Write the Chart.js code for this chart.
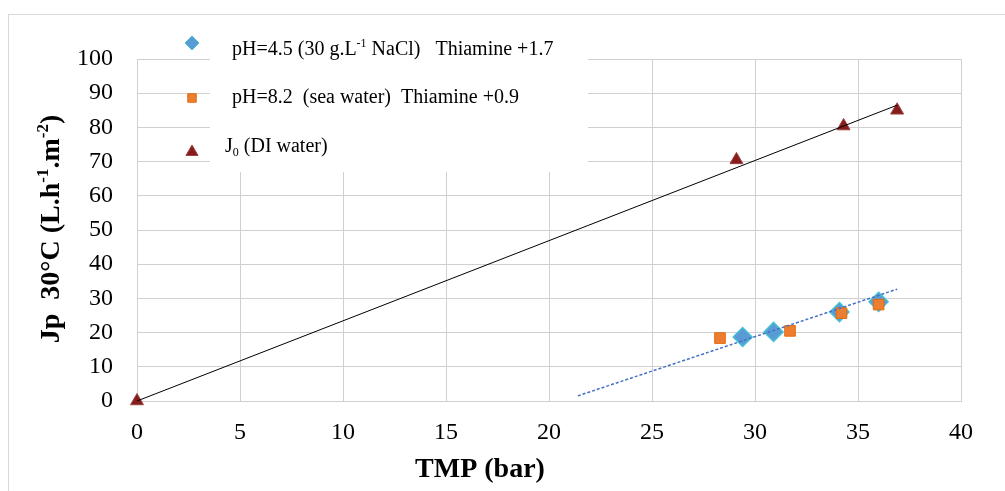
<!DOCTYPE html>
<html>
<head>
<meta charset="utf-8">
<script src="https://cdn.jsdelivr.net/npm/chart.js@4.4.0/dist/chart.umd.min.js"></script>
<style>
html, body { margin: 0; padding: 0; background: #fff; }
#wrap { position: relative; width: 1005px; height: 491px; overflow: hidden; }
#frame { position: absolute; left: 8px; top: 14px; width: 1010px; height: 500px; border: 1px solid #d9d9d9; }
canvas { position: absolute; left: 0; top: 0; }
</style>
</head>
<body>
<div id="wrap">
  <div id="frame"></div>
  <canvas id="chart1" width="1005" height="491"></canvas>
</div>
<script>
// TMP (bar) and permeate flux values
var tmpPh45 = [29.4, 30.9, 34.1, 36.0];
var jpPh45  = [18.7, 20.2, 26.0, 29.0];

var tmpPh82 = [28.3, 31.7, 34.2, 36.0];
var jpPh82  = [18.4, 20.5, 25.7, 28.2];

var tmpJ0 = [0, 29.1, 34.3, 36.9];
var jpJ0  = [0, 70.5, 80.4, 85.0];

// linear trend lines (end points)
var trendJ0X = [0, 36.9];
var trendJ0Y = [0, 86.5];
var trendSaltX = [21.4, 36.9];
var trendSaltY = [1.5, 32.7];

var labels = [
    'pH=4.5 (30 g.L^{-1} NaCl)   Thiamine +1.7',
    'pH=8.2  (sea water)  Thiamine +0.9',
    'J_{0} (DI water)'
];
var xTitle = 'TMP (bar)';
var yTitle = 'Jp  30°C (L.h^{-1}.m^{-2})';

var SERIF = '"Liberation Serif", "Times New Roman", serif';
var GRID = '#d0d0d0';

function toPoints(xs, ys) {
    return xs.map(function (x, i) { return { x: x, y: ys[i] }; });
}

// split text with ^{..} superscripts and _{..} subscripts
function richParts(str) {
    var parts = [], re = /([\^_])\{([^}]*)\}/g, last = 0, m;
    while ((m = re.exec(str))) {
        if (m.index > last) parts.push({ t: str.slice(last, m.index), k: '' });
        parts.push({ t: m[2], k: m[1] });
        last = re.lastIndex;
    }
    if (last < str.length) parts.push({ t: str.slice(last), k: '' });
    return parts;
}

function drawRich(ctx, str, x, y, size, weight, align) {
    var parts = richParts(str);
    var total = 0;
    parts.forEach(function (p) {
        p.font = weight + ' ' + (p.k ? Math.round(size * 0.62) : size) + 'px ' + SERIF;
        ctx.font = p.font;
        p.w = ctx.measureText(p.t).width;
        total += p.w;
    });
    var cx = align === 'center' ? x - total / 2 : x;
    ctx.textAlign = 'left';
    ctx.textBaseline = 'alphabetic';
    parts.forEach(function (p) {
        var dy = p.k === '^' ? -size * 0.38 : (p.k === '_' ? size * 0.22 : 0);
        ctx.font = p.font;
        ctx.fillText(p.t, cx, y + dy);
        cx += p.w;
    });
}

// Excel-like legend sitting over the top-left of the plot
var legendBox = {
    id: 'legendBox',
    afterDraw: function (chart) {
        var ctx = chart.ctx;
        var markerY = [43, 98, 152];
        var textX = [232, 232, 225];
        var textY = [55, 103, 152];
        var sizes = [7, 6, 7];
        ctx.save();
        ctx.fillStyle = '#fff';
        ctx.fillRect(210, 20, 378, 152);
        var n = 0;
        chart.data.datasets.forEach(function (ds) {
            if (ds.trend) return;
            var style = {
                pointStyle: ds.pointStyle, radius: sizes[n], rotation: 0,
                borderWidth: 1
            };
            ctx.fillStyle = ds.backgroundColor;
            ctx.strokeStyle = ds.borderColor;
            ctx.lineWidth = 1;
            Chart.helpers.drawPoint(ctx, style, 192, markerY[n]);
            ctx.fillStyle = '#000';
            drawRich(ctx, ds.label, textX[n], textY[n], 20, 'normal', 'left');
            n++;
        });
        ctx.restore();
    }
};

var axisTitles = {
    id: 'axisTitles',
    afterDraw: function (chart) {
        var ctx = chart.ctx;
        ctx.save();
        ctx.fillStyle = '#000';
        drawRich(ctx, xTitle, 480, 477, 28, 'bold', 'center');
        ctx.translate(59, 229);
        ctx.rotate(-Math.PI / 2);
        drawRich(ctx, yTitle, 0, 0, 28, 'bold', 'center');
        ctx.restore();
    }
};

var ctx = document.getElementById('chart1').getContext('2d');
var chart = new Chart(ctx, {
    type: 'scatter',
    data: {
        datasets: [{
            label: labels[0],
            data: toPoints(tmpPh45, jpPh45),
            pointStyle: 'rectRot',
            pointRadius: 9.5,
            backgroundColor: '#5B9BD5',
            borderColor: '#45C1D6',
            borderWidth: 1.5,
            order: 2
        }, {
            label: labels[1],
            data: toPoints(tmpPh82, jpPh82),
            pointStyle: 'rect',
            pointRadius: 7.5,
            backgroundColor: '#ED7D31',
            borderColor: '#E46C0A',
            borderWidth: 1,
            order: 1
        }, {
            label: labels[2],
            data: toPoints(tmpJ0, jpJ0),
            pointStyle: 'triangle',
            pointRadius: 7.5,
            backgroundColor: '#861C1C',
            borderColor: '#9A4444',
            borderWidth: 1,
            clip: 12,
            order: 2
        }, {
            trend: true,
            data: toPoints(trendJ0X, trendJ0Y),
            showLine: true,
            pointRadius: 0,
            borderColor: '#000',
            borderWidth: 1,
            order: 0
        }, {
            trend: true,
            data: toPoints(trendSaltX, trendSaltY),
            showLine: true,
            pointRadius: 0,
            borderColor: '#4472C4',
            borderWidth: 1.5,
            borderDash: [3, 2],
            order: 0
        }]
    },
    options: {
        responsive: false,
        animation: false,
        devicePixelRatio: 1,
        events: [],
        layout: { padding: { top: 59, right: 44, bottom: 0, left: 0 } },
        plugins: {
            legend: { display: false },
            tooltip: { enabled: false }
        },
        scales: {
            x: {
                type: 'linear',
                min: 0, max: 40,
                ticks: { stepSize: 5, color: '#000', padding: 17, font: { family: SERIF, size: 24 } },
                grid: { color: GRID, drawTicks: false },
                border: { color: GRID },
                afterFit: function (s) { s.height = 90; }
            },
            y: {
                min: 0, max: 100,
                ticks: { stepSize: 10, color: '#000', padding: 24, font: { family: SERIF, size: 24 } },
                grid: { color: GRID, drawTicks: false },
                border: { color: GRID },
                afterFit: function (s) { s.width = 137; }
            }
        }
    },
    plugins: [legendBox, axisTitles]
});
</script>
</body>
</html>
